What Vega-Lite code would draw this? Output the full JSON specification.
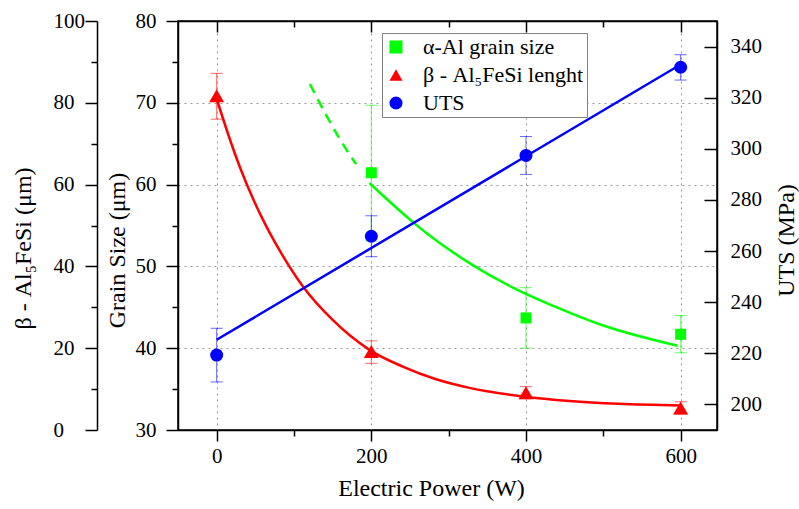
{
  "$schema": "https://vega.github.io/schema/vega-lite/v6.json",
  "width": 539,
  "height": 409,
  "autosize": {"type": "none"},
  "padding": {"left": 178, "top": 21, "right": 82, "bottom": 79},
  "background": "white",
  "config": {
    "font": "Liberation Serif",
    "view": {"stroke": "black", "strokeWidth": 1.5},
    "axis": {
      "labelFont": "Liberation Serif",
      "titleFont": "Liberation Serif",
      "labelFontSize": 21,
      "titleFontSize": 24,
      "titleFontWeight": "normal",
      "labelColor": "black",
      "titleColor": "black",
      "domainColor": "black",
      "tickColor": "black",
      "domainWidth": 1.5,
      "tickWidth": 1.5,
      "gridColor": "#999999",
      "gridDash": [2, 4],
      "gridWidth": 1,
      "labelFlush": false,
      "labelOverlap": false
    }
  },
  "datasets": {
    "grain": [
      {"p": 200, "v": 61.45, "lo": 53.1, "hi": 69.7, "series": "α-Al grain size"},
      {"p": 400, "v": 43.7, "lo": 40.0, "hi": 47.4, "series": "α-Al grain size"},
      {"p": 600, "v": 41.7, "lo": 39.45, "hi": 44.0, "series": "α-Al grain size"}
    ],
    "grainFit": [
      {"p": 197.5, "g": 60.2},
      {"p": 251.5, "g": 55.6},
      {"p": 275, "g": 53.8},
      {"p": 327, "g": 50.4},
      {"p": 383, "g": 47.4},
      {"p": 434.5, "g": 45.2},
      {"p": 499, "g": 42.8},
      {"p": 596, "g": 40.3}
    ],
    "grainDash": [
      {"p": 120.5, "g": 72.3},
      {"p": 141.6, "g": 68.5},
      {"p": 156.6, "g": 66.0},
      {"p": 176, "g": 63.1},
      {"p": 180.4, "g": 62.5}
    ],
    "beta": [
      {"p": 0, "v": 81.7, "lo": 76.0, "hi": 87.2, "series": "β - Al₅FeSi lenght"},
      {"p": 200, "v": 19.2, "lo": 16.3, "hi": 21.8, "series": "β - Al₅FeSi lenght"},
      {"p": 400, "v": 9.1, "lo": 7.65, "hi": 10.6, "series": "β - Al₅FeSi lenght"},
      {"p": 600, "v": 5.4, "lo": 3.9, "hi": 6.9, "series": "β - Al₅FeSi lenght"}
    ],
    "betaFit": [
      {"p": 0, "b": 81.0},
      {"p": 16.5, "b": 71.4},
      {"p": 31.6, "b": 63.5},
      {"p": 46.6, "b": 56.7},
      {"p": 63.9, "b": 49.9},
      {"p": 85.2, "b": 42.7},
      {"p": 111.1, "b": 35.2},
      {"p": 150, "b": 26.9},
      {"p": 197.5, "b": 19.6},
      {"p": 240.6, "b": 15.5},
      {"p": 283.8, "b": 12.4},
      {"p": 326.8, "b": 10.3},
      {"p": 396.6, "b": 8.2},
      {"p": 456.1, "b": 7.1},
      {"p": 520, "b": 6.4},
      {"p": 600, "b": 6.0}
    ],
    "uts": [
      {"p": 0, "v": 219.3, "lo": 208.8, "hi": 229.8, "series": "UTS"},
      {"p": 200, "v": 265.8, "lo": 257.8, "hi": 273.8, "series": "UTS"},
      {"p": 400, "v": 297.4, "lo": 290.0, "hi": 304.8, "series": "UTS"},
      {"p": 600, "v": 331.9, "lo": 326.9, "hi": 336.8, "series": "UTS"}
    ],
    "utsFit": [
      {"p": 0, "u": 225.3},
      {"p": 600, "u": 333.0}
    ]
  },
  "layer": [
    {
      "layer": [
        {
          "data": {"name": "grain"},
          "mark": {"type": "rule", "color": "#00ff00", "strokeWidth": 1, "opacity": 0.6},
          "encoding": {
            "x": {
              "field": "p", "type": "quantitative",
              "scale": {"domain": [-50, 647], "nice": false, "zero": false},
              "title": "Electric Power (W)",
              "axis": {
                "orient": "bottom",
                "values": [0, 100, 200, 300, 400, 500, 600],
                "labelExpr": "datum.value % 200 === 0 ? datum.label : ''",
                "tickSize": {"condition": {"test": "datum.value % 200 === 0", "value": 11}, "value": 6},
                "grid": true,
                "gridOpacity": {"condition": {"test": "datum.value % 200 === 0", "value": 1}, "value": 0},
                "labelPadding": 4,
                "titlePadding": 10,
                "titleX": 253
              }
            },
            "y": {
              "field": "lo", "type": "quantitative",
              "scale": {"domain": [30, 80], "nice": false, "zero": false},
              "title": "Grain Size (μm)",
              "axis": {
                "orient": "left",
                "values": [30, 35, 40, 45, 50, 55, 60, 65, 70, 75, 80],
                "labelExpr": "datum.value % 10 === 0 ? datum.label : ''",
                "tickSize": {"condition": {"test": "datum.value % 10 === 0", "value": 12}, "value": 6},
                "grid": true,
                "gridOpacity": {"condition": {"test": "datum.value % 10 === 0 && datum.value > 30 && datum.value < 80", "value": 1}, "value": 0},
                "labelPadding": 10,
                "titleX": -54,
                "titleY": 229,
                "titleBaseline": "alphabetic"
              }
            },
            "y2": {"field": "hi"}
          }
        },
        {
          "data": {"name": "grain"},
          "mark": {"type": "tick", "orient": "horizontal", "size": 12, "thickness": 1, "color": "#00ff00", "opacity": 0.6},
          "encoding": {
            "x": {"field": "p", "type": "quantitative", "scale": {"domain": [-50, 647], "nice": false, "zero": false}, "title": "Electric Power (W)"},
            "y": {"field": "lo", "type": "quantitative", "scale": {"domain": [30, 80], "nice": false, "zero": false}, "title": "Grain Size (μm)"}
          }
        },
        {
          "data": {"name": "grain"},
          "mark": {"type": "tick", "orient": "horizontal", "size": 12, "thickness": 1, "color": "#00ff00", "opacity": 0.6},
          "encoding": {
            "x": {"field": "p", "type": "quantitative", "scale": {"domain": [-50, 647], "nice": false, "zero": false}, "title": "Electric Power (W)"},
            "y": {"field": "hi", "type": "quantitative", "scale": {"domain": [30, 80], "nice": false, "zero": false}, "title": "Grain Size (μm)"}
          }
        },
        {
          "data": {"name": "grainFit"},
          "mark": {"type": "line", "color": "#00ff00", "strokeWidth": 2.5, "interpolate": "monotone"},
          "encoding": {
            "x": {"field": "p", "type": "quantitative", "scale": {"domain": [-50, 647], "nice": false, "zero": false}, "title": "Electric Power (W)"},
            "y": {"field": "g", "type": "quantitative", "scale": {"domain": [30, 80], "nice": false, "zero": false}, "title": "Grain Size (μm)"}
          }
        },
        {
          "data": {"name": "grainDash"},
          "mark": {"type": "line", "color": "#00ff00", "strokeWidth": 2.5, "strokeDash": [10, 7], "interpolate": "monotone"},
          "encoding": {
            "x": {"field": "p", "type": "quantitative", "scale": {"domain": [-50, 647], "nice": false, "zero": false}, "title": "Electric Power (W)"},
            "y": {"field": "g", "type": "quantitative", "scale": {"domain": [30, 80], "nice": false, "zero": false}, "title": "Grain Size (μm)"}
          }
        },
        {
          "data": {"name": "grain"},
          "mark": {"type": "point", "filled": true, "opacity": 1, "size": 121},
          "encoding": {
            "x": {"field": "p", "type": "quantitative", "scale": {"domain": [-50, 647], "nice": false, "zero": false}, "title": "Electric Power (W)"},
            "y": {"field": "v", "type": "quantitative", "scale": {"domain": [30, 80], "nice": false, "zero": false}, "title": "Grain Size (μm)"},
            "color": {
              "field": "series", "type": "nominal",
              "scale": {"domain": ["α-Al grain size", "β - Al₅FeSi lenght", "UTS"], "range": ["#00ff00", "#ff0000", "#0000ff"]},
              "legend": {"title": null, "orient": "none", "legendX": 204, "legendY": 12, "strokeColor": "#808080", "fillColor": "white", "padding": 3, "rowPadding": 6, "labelFontSize": 22, "labelFont": "Liberation Serif", "labelColor": "black", "labelLimit": 400, "symbolSize": 170, "symbolStrokeWidth": 0, "labelOffset": 16}
            },
            "shape": {
              "field": "series", "type": "nominal",
              "scale": {"domain": ["α-Al grain size", "β - Al₅FeSi lenght", "UTS"], "range": ["square", "triangle-up", "circle"]},
              "legend": {"title": null, "orient": "none", "legendX": 204, "legendY": 12, "strokeColor": "#808080", "fillColor": "white", "padding": 3, "rowPadding": 6, "labelFontSize": 22, "labelFont": "Liberation Serif", "labelColor": "black", "labelLimit": 400, "symbolSize": 170, "symbolStrokeWidth": 0, "labelOffset": 16}
            }
          }
        }
      ]
    },
    {
      "layer": [
        {
          "data": {"name": "beta"},
          "mark": {"type": "rule", "color": "#ff0000", "strokeWidth": 1, "opacity": 0.6},
          "encoding": {
            "x": {"field": "p", "type": "quantitative", "scale": {"domain": [-50, 647], "nice": false, "zero": false}, "axis": null},
            "y": {
              "field": "lo", "type": "quantitative",
              "scale": {"domain": [0, 100], "nice": false, "zero": false},
              "title": "β - Al₅FeSi (μm)",
              "axis": {
                "orient": "left",
                "offset": 81,
                "values": [0, 10, 20, 30, 40, 50, 60, 70, 80, 90, 100],
                "labelExpr": "datum.value % 20 === 0 ? datum.label : ''",
                "tickSize": {"condition": {"test": "datum.value % 20 === 0", "value": 12}, "value": 6},
                "labelAlign": "left",
                "labelPadding": 32,
                "grid": false,
                "titleX": -67,
                "titleY": 227,
                "titleBaseline": "alphabetic"
              }
            },
            "y2": {"field": "hi"}
          }
        },
        {
          "data": {"name": "beta"},
          "mark": {"type": "tick", "orient": "horizontal", "size": 12, "thickness": 1, "color": "#ff0000", "opacity": 0.6},
          "encoding": {
            "x": {"field": "p", "type": "quantitative", "scale": {"domain": [-50, 647], "nice": false, "zero": false}, "axis": null},
            "y": {"field": "lo", "type": "quantitative", "scale": {"domain": [0, 100], "nice": false, "zero": false}, "title": "β - Al₅FeSi (μm)"}
          }
        },
        {
          "data": {"name": "beta"},
          "mark": {"type": "tick", "orient": "horizontal", "size": 12, "thickness": 1, "color": "#ff0000", "opacity": 0.6},
          "encoding": {
            "x": {"field": "p", "type": "quantitative", "scale": {"domain": [-50, 647], "nice": false, "zero": false}, "axis": null},
            "y": {"field": "hi", "type": "quantitative", "scale": {"domain": [0, 100], "nice": false, "zero": false}, "title": "β - Al₅FeSi (μm)"}
          }
        },
        {
          "data": {"name": "betaFit"},
          "mark": {"type": "line", "color": "#ff0000", "strokeWidth": 2.5, "interpolate": "monotone"},
          "encoding": {
            "x": {"field": "p", "type": "quantitative", "scale": {"domain": [-50, 647], "nice": false, "zero": false}, "axis": null},
            "y": {"field": "b", "type": "quantitative", "scale": {"domain": [0, 100], "nice": false, "zero": false}, "title": "β - Al₅FeSi (μm)"}
          }
        },
        {
          "data": {"name": "beta"},
          "mark": {"type": "point", "filled": true, "opacity": 1, "size": 225},
          "encoding": {
            "x": {"field": "p", "type": "quantitative", "scale": {"domain": [-50, 647], "nice": false, "zero": false}, "axis": null},
            "y": {"field": "v", "type": "quantitative", "scale": {"domain": [0, 100], "nice": false, "zero": false}, "title": "β - Al₅FeSi (μm)"},
            "color": {
              "field": "series", "type": "nominal",
              "scale": {"domain": ["α-Al grain size", "β - Al₅FeSi lenght", "UTS"], "range": ["#00ff00", "#ff0000", "#0000ff"]}
            },
            "shape": {
              "field": "series", "type": "nominal",
              "scale": {"domain": ["α-Al grain size", "β - Al₅FeSi lenght", "UTS"], "range": ["square", "triangle-up", "circle"]}
            }
          }
        }
      ]
    },
    {
      "layer": [
        {
          "data": {"name": "uts"},
          "mark": {"type": "rule", "color": "#0000ff", "strokeWidth": 1, "opacity": 0.6},
          "encoding": {
            "x": {
              "field": "p", "type": "quantitative",
              "scale": {"domain": [-50, 647], "nice": false, "zero": false},
              "title": null,
              "axis": {
                "orient": "top",
                "values": [0, 100, 200, 300, 400, 500, 600],
                "labels": false,
                "tickSize": {"condition": {"test": "datum.value % 200 === 0", "value": -11}, "value": -6},
                "grid": false,
                "title": null
              }
            },
            "y": {
              "field": "lo", "type": "quantitative",
              "scale": {"domain": [190, 350], "nice": false, "zero": false},
              "title": "UTS (MPa)",
              "axis": {
                "orient": "right",
                "values": [200, 210, 220, 230, 240, 250, 260, 270, 280, 290, 300, 310, 320, 330, 340],
                "labelExpr": "datum.value % 20 === 0 ? datum.label : ''",
                "tickSize": {"condition": {"test": "datum.value % 20 === 0", "value": -13}, "value": -7},
                "labelPadding": 26,
                "grid": false,
                "titleAngle": -90,
                "titleX": 76,
                "titleY": 219,
                "titleBaseline": "alphabetic"
              }
            },
            "y2": {"field": "hi"}
          }
        },
        {
          "data": {"name": "uts"},
          "mark": {"type": "tick", "orient": "horizontal", "size": 12, "thickness": 1, "color": "#0000ff", "opacity": 0.6},
          "encoding": {
            "x": {"field": "p", "type": "quantitative", "scale": {"domain": [-50, 647], "nice": false, "zero": false}, "title": null},
            "y": {"field": "lo", "type": "quantitative", "scale": {"domain": [190, 350], "nice": false, "zero": false}, "title": "UTS (MPa)"}
          }
        },
        {
          "data": {"name": "uts"},
          "mark": {"type": "tick", "orient": "horizontal", "size": 12, "thickness": 1, "color": "#0000ff", "opacity": 0.6},
          "encoding": {
            "x": {"field": "p", "type": "quantitative", "scale": {"domain": [-50, 647], "nice": false, "zero": false}, "title": null},
            "y": {"field": "hi", "type": "quantitative", "scale": {"domain": [190, 350], "nice": false, "zero": false}, "title": "UTS (MPa)"}
          }
        },
        {
          "data": {"name": "utsFit"},
          "mark": {"type": "line", "color": "#0000ff", "strokeWidth": 2.5},
          "encoding": {
            "x": {"field": "p", "type": "quantitative", "scale": {"domain": [-50, 647], "nice": false, "zero": false}, "title": null},
            "y": {"field": "u", "type": "quantitative", "scale": {"domain": [190, 350], "nice": false, "zero": false}, "title": "UTS (MPa)"}
          }
        },
        {
          "data": {"name": "uts"},
          "mark": {"type": "point", "filled": true, "opacity": 1, "size": 169},
          "encoding": {
            "x": {"field": "p", "type": "quantitative", "scale": {"domain": [-50, 647], "nice": false, "zero": false}, "title": null},
            "y": {"field": "v", "type": "quantitative", "scale": {"domain": [190, 350], "nice": false, "zero": false}, "title": "UTS (MPa)"},
            "color": {
              "field": "series", "type": "nominal",
              "scale": {"domain": ["α-Al grain size", "β - Al₅FeSi lenght", "UTS"], "range": ["#00ff00", "#ff0000", "#0000ff"]}
            },
            "shape": {
              "field": "series", "type": "nominal",
              "scale": {"domain": ["α-Al grain size", "β - Al₅FeSi lenght", "UTS"], "range": ["square", "triangle-up", "circle"]}
            }
          }
        }
      ]
    }
  ],
  "resolve": {
    "scale": {"y": "independent"},
    "axis": {"y": "independent", "x": "independent"}
  }
}
